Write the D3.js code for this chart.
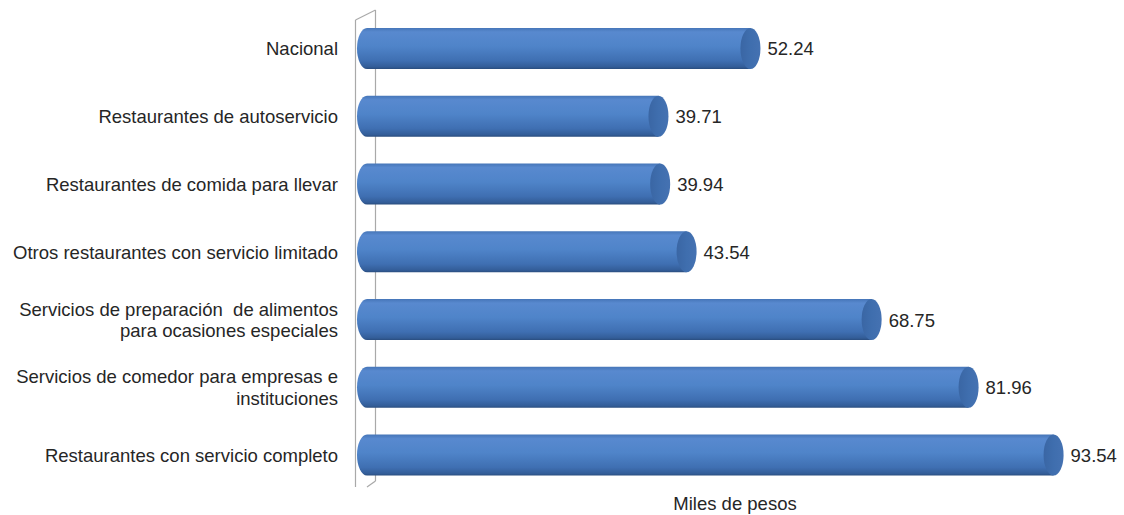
<!DOCTYPE html>
<html>
<head>
<meta charset="utf-8">
<script src="https://cdn.jsdelivr.net/npm/d3@7"></script>
<style>
  html, body { margin: 0; padding: 0; background: #ffffff; }
  svg { display: block; }
  text { font-family: "Liberation Sans", Arial, sans-serif; fill: #262626; white-space: pre; }
</style>
</head>
<body>
<svg id="chart" width="1124" height="515"></svg>
<script>
// Data
const categories = [
  ["Nacional"],
  ["Restaurantes de autoservicio"],
  ["Restaurantes de comida para llevar"],
  ["Otros restaurantes con servicio limitado"],
  ["Servicios de preparación  de alimentos", "para ocasiones especiales"],
  ["Servicios de comedor para empresas e", "instituciones"],
  ["Restaurantes con servicio completo"]
];
const values = [52.24, 39.71, 39.94, 43.54, 68.75, 81.96, 93.54];
const valueLabels = ["52.24", "39.71", "39.94", "43.54", "68.75", "81.96", "93.54"];
const axisTitle = "Miles de pesos";

const svg = d3.select("#chart");
const FS = 18.5;

const x = d3.scaleLinear().domain([0, 100]).range([367, 367 + 734]);
const keys = categories.map((c, i) => i);
const y = d3.scaleBand().domain(keys).range([14.5, 489]).paddingInner(0.395).paddingOuter(0.1975);

const defs = svg.append("defs");
const grad = defs.append("linearGradient").attr("id", "barGrad")
  .attr("x1", 0).attr("y1", 0).attr("x2", 0).attr("y2", 1);
[[0, "#4676b8"], [0.1, "#5889cf"], [0.45, "#4f84c9"], [0.8, "#3f6fb2"], [0.95, "#335d98"], [1, "#2a4d7e"]]
  .forEach(([o, c]) => grad.append("stop").attr("offset", o).attr("stop-color", c));
const capGrad = defs.append("linearGradient").attr("id", "capGrad")
  .attr("x1", 0).attr("y1", 0).attr("x2", 1).attr("y2", 0);
[[0, "#3a66a4"], [0.5, "#3f6eae"], [1, "#4572b2"]]
  .forEach(([o, c]) => capGrad.append("stop").attr("offset", o).attr("stop-color", c));

// 3D wall (axis)
const wall = svg.append("g").attr("stroke", "#a9a9a9").attr("stroke-width", 1.2).attr("fill", "none");
wall.append("line").attr("x1", 355.5).attr("y1", 20).attr("x2", 355.5).attr("y2", 487);
wall.append("line").attr("x1", 375.5).attr("y1", 10).attr("x2", 375.5).attr("y2", 481);
wall.append("line").attr("x1", 355.5).attr("y1", 20).attr("x2", 375.5).attr("y2", 10);
wall.append("line").attr("x1", 375.5).attr("y1", 481).attr("x2", 367).attr("y2", 487);

const rx = 10;
const bars = svg.append("g").selectAll("g").data(values).join("g");

bars.append("path")
  .attr("d", (d, i) => {
    const y0 = y(i), h = y.bandwidth(), x0 = x(0), x1 = x(d);
    return `M${x1},${y0} L${x0},${y0} A${rx},${h / 2} 0 0 0 ${x0},${y0 + h} L${x1},${y0 + h} Z`;
  })
  .attr("fill", "url(#barGrad)");

bars.append("ellipse")
  .attr("cx", (d) => x(d))
  .attr("cy", (d, i) => y(i) + y.bandwidth() / 2)
  .attr("rx", rx)
  .attr("ry", y.bandwidth() / 2)
  .attr("fill", "url(#capGrad)");

// value labels
svg.append("g").selectAll("text").data(values).join("text")
  .attr("x", (d) => x(d) + 17)
  .attr("y", (d, i) => y(i) + y.bandwidth() / 2 + 7)
  .attr("font-size", FS)
  .text((d, i) => valueLabels[i]);

// category labels
const cl = svg.append("g").selectAll("text").data(categories).join("text")
  .attr("text-anchor", "end")
  .attr("font-size", FS)
  .attr("x", 338)
  .attr("y", (d, i) => y(i) + y.bandwidth() / 2 + 7 - (d.length - 1) * 11);
cl.selectAll("tspan").data(d => d).join("tspan")
  .attr("x", 338)
  .attr("dy", (d, j) => j === 0 ? 0 : 21.6)
  .text(d => d);

svg.append("text")
  .attr("x", 735).attr("y", 510)
  .attr("text-anchor", "middle")
  .attr("font-size", FS)
  .text(axisTitle);
</script>
</body>
</html>
